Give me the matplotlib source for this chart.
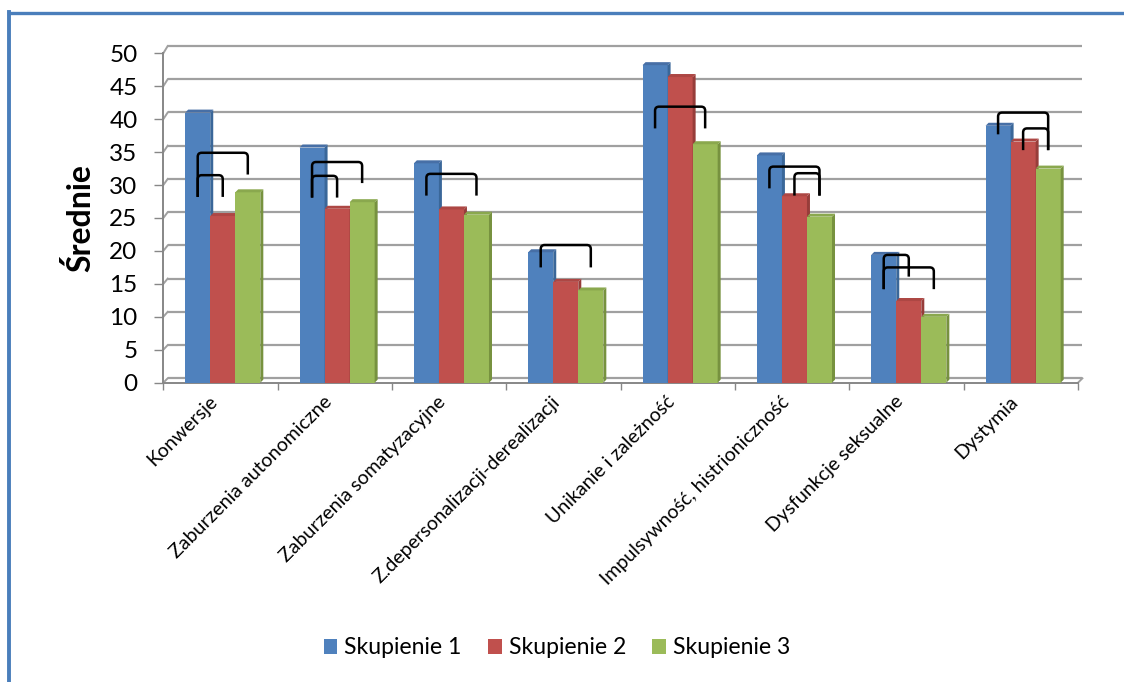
import matplotlib
matplotlib.use("Agg")
import matplotlib.pyplot as plt
import numpy as np
from matplotlib.lines import Line2D
from matplotlib.patches import Patch, Polygon, PathPatch
from matplotlib.path import Path

plt.rcParams['font.family'] = ['Lato', 'DejaVu Sans']

categories = [
    "Konwersje",
    "Zaburzenia autonomiczne",
    "Zaburzenia somatyzacyjne",
    "Z.depersonalizacji-derealizacji",
    "Unikanie i zależność",
    "Impulsywność, histrioniczność",
    "Dysfunkcje seksualne",
    "Dystymia",
]
series_names = ["Skupienie 1", "Skupienie 2", "Skupienie 3"]
skupienie_1 = [41.0, 35.7, 33.3, 19.8, 48.2, 34.5, 19.4, 39.0]
skupienie_2 = [25.3, 26.4, 26.3, 15.3, 46.4, 28.3, 12.4, 36.6]
skupienie_3 = [28.9, 27.4, 25.5, 14.0, 36.2, 25.2, 10.0, 32.5]

# significance brackets: (category, left series, right series, top, left leg end, right leg end)
brackets = [
    (0, 0, 2, 34.9, 28.2, 31.6),
    (0, 0, 1, 31.5, 28.2, 28.2),
    (1, 0, 2, 33.5, 28.1, 30.3),
    (1, 0, 1, 31.4, 28.1, 28.1),
    (2, 0, 2, 31.7, 28.4, 28.4),
    (3, 0, 2, 20.9, 17.5, 17.5),
    (4, 0, 2, 41.9, 38.6, 38.6),
    (5, 0, 2, 32.8, 29.5, 28.4),
    (5, 1, 2, 31.8, 28.4, 28.4),
    (6, 0, 1, 19.4, 14.2, 16.1),
    (6, 0, 2, 17.5, 14.2, 14.2),
    (7, 0, 2, 41.0, 37.7, 35.3),
    (7, 1, 2, 38.6, 35.3, 35.3),
]

face_colors = ["#4F81BD", "#C0504D", "#9BBB59"]
side_colors = ["#3A6799", "#973D3A", "#77923F"]
top_colors = ["#476FA6", "#AD4744", "#8AA84E"]
grid_color = "#A0A0A0"
axis_color = "#878787"

W, H = 1124, 682
fig = plt.figure(figsize=(W / 100, H / 100), dpi=100)

# front plane of the plot area in pixels
x0_px, x1_px = 163.3, 1078.0
y0_px, y50_px = 382.7, 53.3
ax = fig.add_axes([x0_px / W, 1 - y0_px / H, (x1_px - x0_px) / W, (y0_px - y50_px) / H])
ax.set_xlim(-0.5, 7.5)
ax.set_ylim(0, 50)
for s in ax.spines.values():
    s.set_visible(False)

px_x = 8.0 / (x1_px - x0_px)
px_y = 50.0 / (y0_px - y50_px)

# back wall gridlines, shifted up/right for the 3d look
depth_x = 4.4 * px_x
for v in range(0, 51, 5):
    yb = 0.668 + 1.0088 * v
    ax.plot([-0.5 + depth_x, 7.5 + depth_x], [yb, yb], color=grid_color, lw=1.6,
            zorder=1, clip_on=False, solid_capstyle='butt')
    ax.plot([-0.5, -0.5 + depth_x], [v, yb], color=grid_color, lw=1.4, zorder=1, clip_on=False)
ax.plot([7.5, 7.5 + depth_x], [0, 0.668], color=grid_color, lw=1.4, zorder=1, clip_on=False)

# front axis lines
ax.plot([-0.5, -0.5], [0, 50], color=axis_color, lw=1.4, zorder=2, clip_on=False)
ax.plot([-0.5, 7.5], [0, 0], color=axis_color, lw=1.4, zorder=2, clip_on=False)

x = np.arange(len(categories))
values = [skupienie_1, skupienie_2, skupienie_3]
bar_w = 0.219
offsets = [(i - 1) * bar_w + 0.02 for i in range(3)]
dx = 3 * px_x
dy = 3 * px_y

for i, vals in enumerate(values):
    xs = x + offsets[i]
    ax.bar(xs, vals, width=bar_w, color=face_colors[i], linewidth=0, zorder=3 + i)
    for xc, v in zip(xs, vals):
        xl, xr = xc - bar_w / 2, xc + bar_w / 2
        ax.add_patch(Polygon([(xr, 0), (xr + dx, dy), (xr + dx, v + dy), (xr, v)],
                             closed=True, color=side_colors[i], lw=0, zorder=3 + i))
        ax.add_patch(Polygon([(xl, v), (xl + dx, v + dy), (xr + dx, v + dy), (xr, v)],
                             closed=True, color=top_colors[i], lw=0, zorder=3 + i))

# brackets marking significant differences
rx = 4 * px_x
ry = 4 * px_y
for cat, a, b, top, bot_a, bot_b in brackets:
    xa = cat + offsets[a]
    xb = cat + offsets[b]
    verts = [(xa, bot_a), (xa, top - ry), (xa, top), (xa + rx, top),
             (xb - rx, top), (xb, top), (xb, top - ry), (xb, bot_b)]
    codes = [Path.MOVETO, Path.LINETO, Path.CURVE3, Path.CURVE3,
             Path.LINETO, Path.CURVE3, Path.CURVE3, Path.LINETO]
    ax.add_patch(PathPatch(Path(verts, codes), fill=False, edgecolor="black",
                           lw=1.8, zorder=10, capstyle='butt'))

# y axis
ax.set_yticks(range(0, 51, 5))
ax.tick_params(axis='y', length=6.5, width=1.0, color=axis_color, pad=12, labelsize=17.5)
ax.set_ylabel("Średnie", fontsize=23, fontweight='bold')
ax.yaxis.set_label_coords((95 - x0_px) / (x1_px - x0_px), 0.5)

# x axis: ticks between categories, labels at category centres
ax.set_xticks(np.arange(-0.5, 8, 1))
ax.set_xticklabels([])
ax.tick_params(axis='x', which='major', length=5, width=1.0, color=axis_color)
ax.set_xticks(x, categories, minor=True)
ax.tick_params(axis='x', which='minor', length=0, pad=16, labelsize=14.0)
for lbl in ax.get_xticklabels(minor=True):
    lbl.set_rotation(45)
    lbl.set_ha('right')
    lbl.set_va('bottom')
    lbl.set_rotation_mode('anchor')

handles = [Patch(facecolor=c, edgecolor='none') for c in face_colors]
fig.legend(handles, series_names, loc='center', bbox_to_anchor=(557 / W, 1 - 648 / H),
           ncol=3, frameon=False, fontsize=16.6, handlelength=0.58, handleheight=0.58,
           handletextpad=0.3, columnspacing=1.15)

# outer chart frame (only the top and left edges are in view)
frame_color = "#4A7EBB"
fig.add_artist(Line2D([9 / W, 1.0], [1 - 13.3 / H, 1 - 13.3 / H], color=frame_color, lw=2.4))
fig.add_artist(Line2D([9 / W, 9 / W], [0.0, 1 - 12 / H], color=frame_color, lw=2.8))

fig.savefig("out.png", dpi=100)
